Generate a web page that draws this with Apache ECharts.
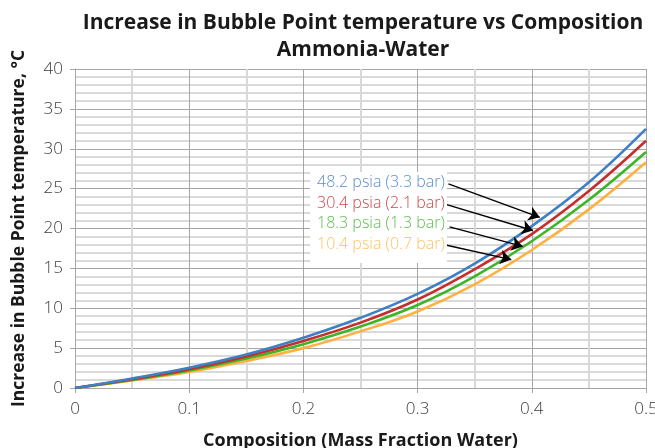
<!DOCTYPE html>
<html>
<head>
<meta charset="utf-8">
<script src="https://cdn.jsdelivr.net/npm/echarts@6/dist/echarts.min.js"></script>
<style>html,body{margin:0;padding:0;background:#fff}#c{width:655px;height:448px}</style>
</head>
<body>
<div id="c"></div>
<script>
// Composition (mass fraction water)
const composition = [0, 0.05, 0.10, 0.15, 0.20, 0.25, 0.30, 0.35, 0.40, 0.45, 0.50];
// Increase in bubble point temperature, °C
const psia48 = [0, 1.2, 2.55, 4.2, 6.3, 8.8, 11.8, 15.6, 20.3, 25.8, 32.5];
const psia30 = [0, 1.1, 2.35, 3.95, 5.9, 8.2, 11.1, 14.9, 19.3, 24.7, 31.0];
const psia18 = [0, 1.0, 2.2, 3.7, 5.5, 7.7, 10.4, 14.0, 18.4, 23.6, 29.6];
const psia10 = [0, 0.95, 2.0, 3.4, 5.0, 7.1, 9.6, 13.0, 17.3, 22.4, 28.3];
const seriesNames = ['48.2 psia (3.3 bar)', '30.4 psia (2.1 bar)', '18.3 psia (1.3 bar)', '10.4 psia (0.7 bar)'];
const xTicks = ['0', '0.1', '0.2', '0.3', '0.4', '0.5'];
// annotation arrows: [start x, start y] -> [tip x, tip y] in data units
const arrowStart = [[0.327, 25.6], [0.3255, 23.0], [0.328, 20.2], [0.3255, 17.9]];
const arrowTip = [[0.407, 21.4], [0.401, 19.75], [0.392, 17.75], [0.382, 16.1]];

const lineColors = ['#3f7fc4', '#c22f2c', '#3db526', '#ffb13f'];
const labelColors = ['#5b8fd0', '#d0474a', '#5cc04e', '#ffc264'];
const FONT = 'Open Sans';

const chart = echarts.init(document.getElementById('c'), null, {renderer: 'canvas'});
const allData = [psia48, psia30, psia18, psia10];
const series = allData.map((d, i) => ({
  name: seriesNames[i],
  type: 'line',
  data: composition.map((x, j) => [x, d[j]]),
  smooth: 0.4,
  showSymbol: false,
  lineStyle: {color: lineColors[i], width: 2.6},
  z: 5 - i
}));
series.push({
  type: 'lines',
  coordinateSystem: 'cartesian2d',
  symbol: ['none', 'arrow'],
  symbolSize: [0, 11],
  lineStyle: {color: '#000', width: 1.4, opacity: 1},
  data: arrowStart.map((s, i) => ({coords: [s, arrowTip[i]]})),
  z: 10
});

const textLines = seriesNames.map((n, i) => ({
  type: 'text',
  left: 317,
  top: 174.5 + i * 20.7,
  z: 20,
  style: {text: n, fill: labelColors[i], font: '300 16px "' + FONT + '"'}
}));

chart.setOption({
  animation: false,
  title: {
    text: 'Increase in Bubble Point temperature vs Composition\nAmmonia-Water',
    left: 358,
    top: 5,
    textAlign: 'center',
    textStyle: {fontFamily: FONT, fontWeight: 'bold', fontSize: 21, color: '#1a1a1a', lineHeight: 27}
  },
  grid: {left: 75, right: 9, top: 69, bottom: 60, containLabel: false, outerBoundsMode: 'none'},
  xAxis: {
    type: 'value', min: 0, max: 0.5, interval: 0.1,
    name: 'Composition (Mass Fraction Water)',
    nameLocation: 'middle', nameGap: 44,
    nameTextStyle: {fontFamily: FONT, fontWeight: 'bold', fontSize: 18, color: '#1a1a1a'},
    axisLine: {lineStyle: {color: '#a6a6a6', width: 1}},
    axisTick: {show: true, length: 5, lineStyle: {color: '#a6a6a6'}},
    axisLabel: {fontFamily: FONT, fontWeight: 300, fontSize: 17, color: '#404040', margin: 13,
      formatter: (v) => xTicks[Math.round(v * 10)]},
    splitLine: {show: true, lineStyle: {color: '#a6a6a6', width: 1}},
    minorTick: {show: false, splitNumber: 2},
    minorSplitLine: {show: true, lineStyle: {color: '#d9d9d9', width: 2}}
  },
  yAxis: {
    type: 'value', min: 0, max: 40, interval: 5,
    name: 'Increase in Bubble Point temperature, °C',
    nameLocation: 'middle', nameGap: 47,
    nameTextStyle: {fontFamily: FONT, fontWeight: 'bold', fontSize: 17.5, color: '#1a1a1a'},
    axisLine: {show: true, lineStyle: {color: '#a6a6a6', width: 1}},
    axisTick: {show: true, length: 5, lineStyle: {color: '#a6a6a6'}},
    axisLabel: {fontFamily: FONT, fontWeight: 300, fontSize: 17, color: '#404040', margin: 12},
    splitLine: {show: true, lineStyle: {color: '#a6a6a6', width: 1}},
    minorTick: {show: false, splitNumber: 5},
    minorSplitLine: {show: true, lineStyle: {color: '#d9d9d9', width: 2}}
  },
  graphic: [
    {type: 'rect', left: 310, top: 172, z: 15, shape: {width: 137, height: 91}, style: {fill: '#fff'}}
  ].concat(textLines),
  series: series
});
</script>
</body>
</html>
